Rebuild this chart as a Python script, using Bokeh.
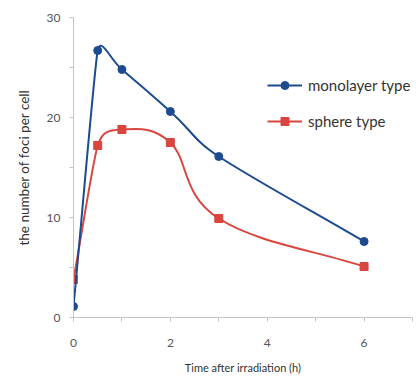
import numpy as np
from bokeh.plotting import figure
from bokeh.models import FixedTicker, Legend, LegendItem
from bokeh.embed import file_html
from bokeh.resources import INLINE

# ---- data ----
time_h = [0, 0.5, 1, 2, 3, 6]
monolayer = [1.1, 26.7, 24.8, 20.6, 16.1, 7.6]
sphere = [3.8, 17.2, 18.8, 17.5, 9.9, 5.1]
x_tick_labels = [0, 2, 4, 6]
x_minor = [1, 3, 5, 7]
y_tick_labels = [0, 10, 20, 30]
y_minor = [5, 15, 25]

BLUE = "#1d4b8f"
RED = "#d9463f"
AXIS = "#c4c4c4"
FONT = "Lato"

PX_X = 48.4   # pixels per hour (smoothing is done in screen space)
PX_Y = 10.0   # pixels per focus


def bezier_controls(xs, ys, k=0.5):
    """Smoothed line: cubic Bezier control points per segment (screen space)."""
    P = np.column_stack([np.asarray(xs, float) * PX_X, np.asarray(ys, float) * PX_Y])
    n = len(P)
    d = np.hypot(*np.diff(P, axis=0).T)
    tang = np.zeros_like(P)
    arm = np.zeros(n)
    for i in range(n):
        if i == 0:
            t = P[1] - P[0]; arm[i] = d[0] / 3
        elif i == n - 1:
            t = P[-1] - P[-2]; arm[i] = d[-1] / 3
        else:
            t = P[i + 1] - P[i - 1]; arm[i] = k * min(d[i - 1], d[i])
        tang[i] = t / np.hypot(*t)
    out = {key: [] for key in ("x0", "y0", "x1", "y1", "cx0", "cy0", "cx1", "cy1")}
    for i in range(n - 1):
        a = P[i] + tang[i] * arm[i]
        b = P[i + 1] - tang[i + 1] * arm[i + 1]
        out["x0"].append(P[i][0] / PX_X); out["y0"].append(P[i][1] / PX_Y)
        out["x1"].append(P[i + 1][0] / PX_X); out["y1"].append(P[i + 1][1] / PX_Y)
        out["cx0"].append(a[0] / PX_X); out["cy0"].append(a[1] / PX_Y)
        out["cx1"].append(b[0] / PX_X); out["cy1"].append(b[1] / PX_Y)
    return out


p = figure(width=416, height=376, x_range=(0, 7), y_range=(0, 30),
           output_backend="svg", toolbar_location=None,
           min_border_left=73, min_border_right=4, min_border_top=17, min_border_bottom=59)
p.outline_line_color = None
p.grid.visible = False
p.background_fill_color = "white"
p.border_fill_color = "white"

# sphere (drawn first, below)
sb = bezier_controls(time_h, sphere)
r_s_line = p.bezier(line_color=RED, line_width=2, **sb)
r_s_pts = p.scatter(time_h, sphere, marker="square", size=8, fill_color=RED, line_color=RED)

mb = bezier_controls(time_h, monolayer)
r_m_line = p.bezier(line_color=BLUE, line_width=2, **mb)
r_m_pts = p.scatter(time_h, monolayer, marker="circle", size=8, fill_color=BLUE, line_color=BLUE)

# axes
for ax in (p.xaxis[0], p.yaxis[0]):
    ax.axis_line_color = AXIS
    ax.major_tick_line_color = AXIS
    ax.minor_tick_line_color = AXIS
    ax.major_tick_in = 0
    ax.minor_tick_in = 0
    ax.major_tick_out = 4
    ax.minor_tick_out = 4
    ax.major_label_text_font = FONT
    ax.major_label_text_color = "#555555"
    ax.major_label_text_font_size = "12px"
    ax.axis_label_text_font = FONT
    ax.axis_label_text_font_style = "normal"
    ax.axis_label_text_color = "#333333"

p.xaxis.ticker = FixedTicker(ticks=x_tick_labels, minor_ticks=x_minor)
p.yaxis.ticker = FixedTicker(ticks=y_tick_labels, minor_ticks=y_minor)
p.xaxis.major_label_standoff = 17
p.yaxis.major_label_standoff = 9
p.xaxis.axis_label = "Time after irradiation (h)"
p.xaxis.axis_label_text_font_size = "11px"
p.xaxis.axis_label_standoff = 11
p.yaxis.axis_label = "the number of foci per cell"
p.yaxis.axis_label_text_font_size = "13.5px"
p.yaxis.axis_label_standoff = 12

legend = Legend(items=[
    LegendItem(label="monolayer type", renderers=[r_m_line, r_m_pts]),
    LegendItem(label="sphere type", renderers=[r_s_line, r_s_pts]),
], location=(194, 186))
legend.border_line_color = None
legend.background_fill_alpha = 0
legend.padding = 0
legend.margin = 0
legend.spacing = 16
legend.glyph_width = 35
legend.glyph_height = 20
legend.label_height = 20
legend.label_standoff = 6
legend.label_text_font = FONT
legend.label_text_font_size = "15px"
legend.label_text_color = "#333333"
p.add_layout(legend, "center")

open("out.html", "w").write(file_html(p, INLINE))
